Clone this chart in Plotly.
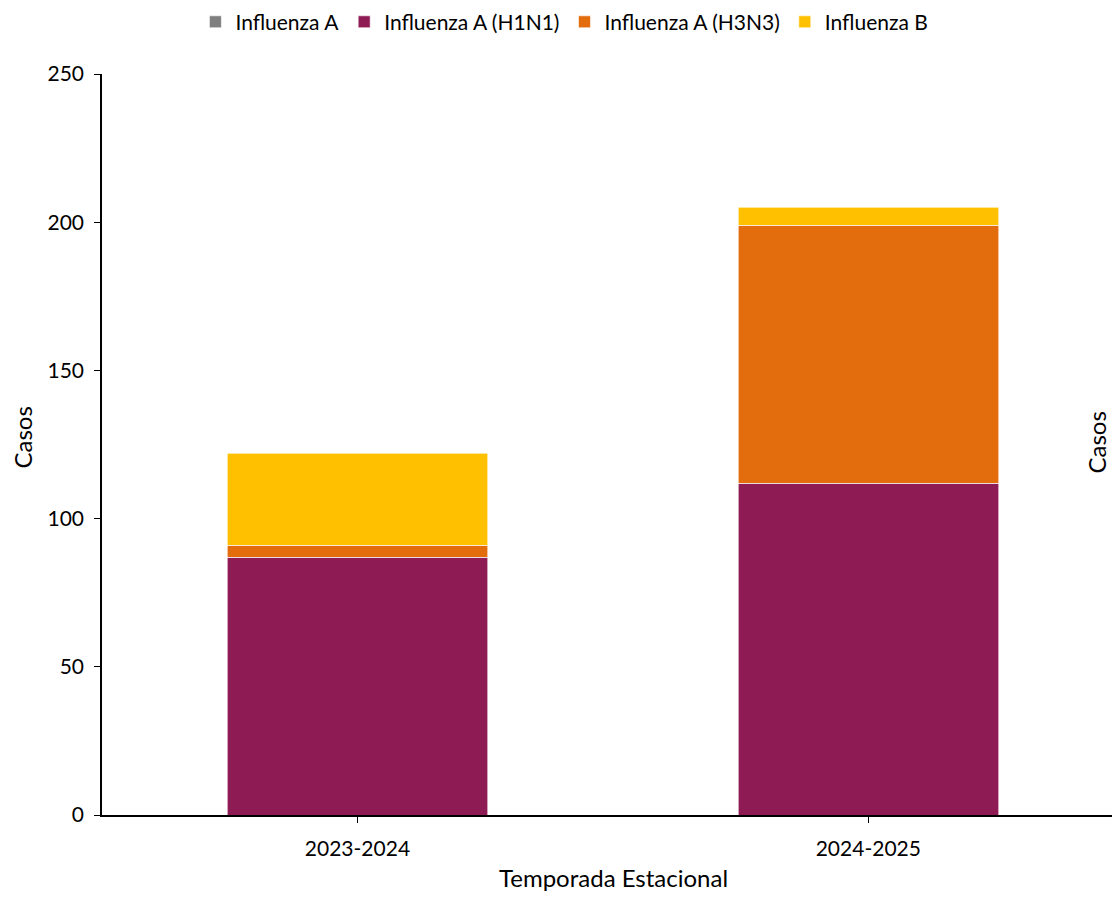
import plotly.graph_objects as go

# datos
temporadas = ["2023-2024", "2024-2025"]
influenza_a = [0, 0]
influenza_h1n1 = [87, 112]
influenza_h3n3 = [4, 87]
influenza_b = [31, 6]

FONT = "Lato, 'Open Sans', sans-serif"

series = [
    ("Influenza A", influenza_a, "#7F7F7F"),
    ("Influenza A (H1N1)", influenza_h1n1, "#8E1B53"),
    ("Influenza A (H3N3)", influenza_h3n3, "#E36C0D"),
    ("Influenza B", influenza_b, "#FFC000"),
]

fig = go.Figure()
for name, vals, color in series:
    fig.add_trace(go.Bar(
        x=temporadas, y=vals, name=name, width=0.51,
        marker=dict(color=color, line=dict(color="white", width=0.6)),
    ))


def titulo(texto, x, y, xshift=0, yshift=0, angle=0):
    # títulos como anotaciones para que no empujen los márgenes
    return dict(
        text=texto, xref="paper", yref="paper", x=x, y=y,
        xanchor="center", yanchor="middle", textangle=angle, showarrow=False,
        font=dict(size=24), xshift=xshift, yshift=yshift,
    )


# la página pone 8 px de margen al cuerpo: la figura se encoge para caber
fig.update_layout(
    barmode="stack",
    width=1104, height=884,
    margin=dict(l=94, r=0, t=66, b=77),
    plot_bgcolor="white", paper_bgcolor="white",
    font=dict(family=FONT, size=21, color="black"),
    legend=dict(
        orientation="h", xref="container", yref="container",
        x=0.504, xanchor="center", y=0.984, yanchor="middle",
        font=dict(size=21), itemwidth=30, traceorder="normal",
    ),
    xaxis=dict(
        range=[-0.5, 1.477], showline=True, linecolor="black", linewidth=1.5,
        ticks="outside", ticklen=6, tickcolor="black", ticklabelstandoff=8,
        showgrid=False, automargin=False,
    ),
    yaxis=dict(
        range=[0, 250], dtick=50, showline=True, linecolor="black", linewidth=1.5,
        ticks="outside", ticklen=6, tickcolor="black", ticklabelstandoff=6,
        showgrid=False, zeroline=False, automargin=False,
    ),
    annotations=[
        titulo("Temporada Estacional", 0.5, 0, xshift=6, yshift=-62),
        titulo("Casos", 0, 0.5, xshift=-80, yshift=7, angle=-90),
        titulo("Casos", 1, 0.5, xshift=-16, yshift=2, angle=-90),
    ],
)

fig.write_html("out.html")
